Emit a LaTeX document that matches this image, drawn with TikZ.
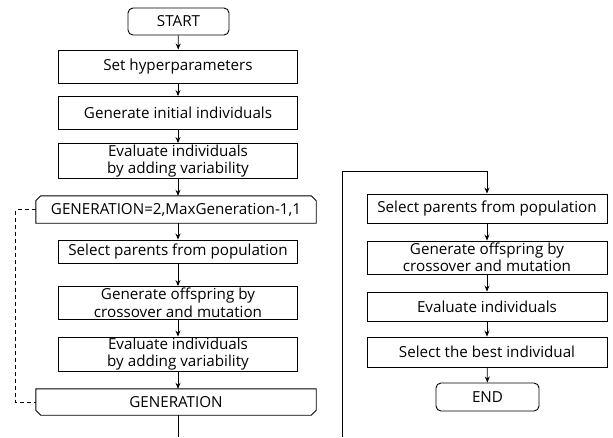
\documentclass[tikz,border=0pt]{standalone}
\usepackage{fontspec}
\setmainfont{Open Sans}
\usetikzlibrary{arrows.meta,calc}
\begin{document}
\begin{tikzpicture}[x=1pt,y=-1pt,
  txt/.style={font=\fontsize{15.2}{17.5}\selectfont, align=center, inner sep=0pt},
  box/.style={txt, draw, line width=0.9pt},
  term/.style={box, rounded corners=5pt},
  loopshape/.style={line width=0.9pt},
  arr/.style={-{Stealth[length=6pt,width=5pt]}, line width=0.8pt},
  link/.style={line width=0.8pt},
  dashlink/.style={line width=0.8pt, dash pattern=on 4pt off 3pt}]
\useasboundingbox (0,0) rectangle (613,437);

% left column
\node[term, minimum width=101pt, minimum height=27pt] (start) at (178.5,21.5) {START};
\node[box, minimum width=239pt, minimum height=33pt] (n1) at (178,66.5) {Set hyperparameters};
\node[box, minimum width=239pt, minimum height=33pt] (n2) at (178,113) {Generate initial individuals};
\node[box, minimum width=239pt, minimum height=35pt] (n3) at (178,161) {Evaluate individuals\\by adding variability};
\node[txt, minimum width=280pt, minimum height=27pt] (la) at (176,209.5) {GENERATION=2,MaxGeneration-1,1};
\node[box, minimum width=239pt, minimum height=23pt] (s1) at (178,251.5) {Select parents from population};
\node[box, minimum width=239pt, minimum height=33pt] (s2) at (178,303) {Generate offspring by\\crossover and mutation};
\node[box, minimum width=239pt, minimum height=34pt] (s3) at (178,354) {Evaluate individuals\\by adding variability};
\node[txt, minimum width=280pt, minimum height=26pt] (lb) at (176,402) {GENERATION};

\draw[loopshape] (la.south west) -- ($(la.north west)+(0,5)$) -- ($(la.north west)+(5,0)$)
  -- ($(la.north east)+(-5,0)$) -- ($(la.north east)+(0,5)$) -- (la.south east) -- cycle;
\draw[loopshape] (lb.north west) -- ($(lb.south west)+(0,-5)$) -- ($(lb.south west)+(5,0)$)
  -- ($(lb.south east)+(-5,0)$) -- ($(lb.south east)+(0,-5)$) -- (lb.north east) -- cycle;

\draw[arr] (start) -- (n1);
\draw[arr] (n1) -- (n2);
\draw[arr] (n2) -- (n3);
\draw[arr] (n3.south) -- (n3.south |- la.north);
\draw[arr] (la.south -| s1.north) -- (s1.north);
\draw[arr] (s1) -- (s2);
\draw[arr] (s2) -- (s3);
\draw[arr] (s3.south) -- (s3.south |- lb.north);
\coordinate (c1) at (178,437);
\draw[link] (lb.south -| c1) -- (c1);
\draw[dashlink] (la.west) -- ++(-20,0) |- (lb.west);

% right column
\node[box, minimum width=240pt, minimum height=29pt] (r1) at (487,208.5) {Select parents from population};
\node[box, minimum width=240pt, minimum height=33pt] (r2) at (487,257.5) {Generate offspring by\\crossover and mutation};
\node[box, minimum width=240pt, minimum height=29pt] (r3) at (487,306.5) {Evaluate individuals};
\node[box, minimum width=240pt, minimum height=30pt] (r4) at (487,352) {Select the best individual};
\node[term, minimum width=103pt, minimum height=28pt] (end) at (487.5,397) {END};

\coordinate (c2) at (342,437);
\draw[arr] (c2) |- ($(r1.north)+(0,-22)$) -- (r1.north);
\draw[arr] (r1) -- (r2);
\draw[arr] (r2) -- (r3);
\draw[arr] (r3) -- (r4);
\draw[arr] (r4) -- (end);
\end{tikzpicture}
\end{document}
